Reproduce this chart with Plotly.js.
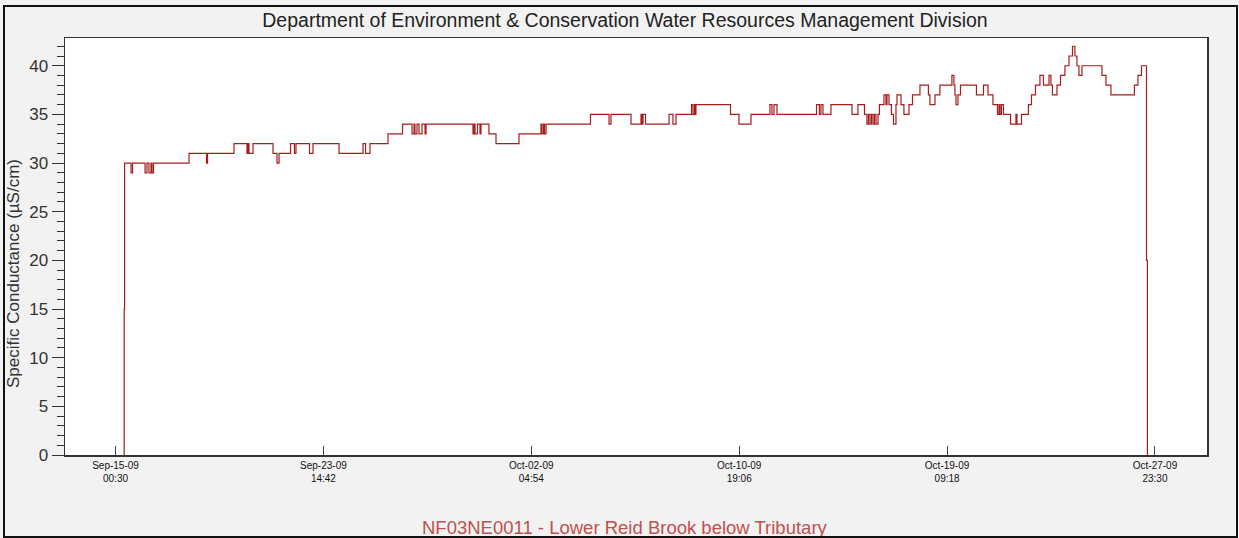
<!DOCTYPE html>
<html>
<head>
<meta charset="utf-8">
<script src="https://cdn.plot.ly/plotly-3.0.1.min.js"></script>
<style>
  html, body { margin: 0; padding: 0; background: #f2f2f2; }
  #wrap { position: relative; width: 1239px; height: 538px; }
  #chart { position: absolute; left: 0; top: 0; width: 1239px; height: 538px; }
  #frame { position: absolute; left: 3px; top: 5px; width: 1231px; height: 529px;
           border: 2px solid #111; pointer-events: none; }
</style>
</head>
<body>
<div id="wrap"><div id="chart"></div><div id="frame"></div></div>
<script>
// ---- data ----
const startTime = '2009-09-15 00:30';   // first x tick
// elapsed hours since startTime at which the reading changes
const hoursFromStart = [
  8.4, 8.6, 9.0, 15.4, 16.9, 29.3, 31.2, 33.2, 35.2, 36.2, 37.7, 72.9, 90.3, 91.3,
  117.5, 130.4, 131.4, 132.4, 136.4, 156.2, 160.2, 162.2, 173.6, 177.5, 179.0, 192.4,
  195.9, 221.7, 245.5, 248.0, 252.4, 270.3, 284.7, 294.1, 296.1, 297.0, 299.0, 301.0,
  304.0, 307.0, 308.0, 354.6, 355.6, 356.6, 359.0, 361.5, 362.5, 370.4, 377.4, 400.2,
  422.0, 423.0, 424.5, 425.5, 427.0, 471.1, 489.5, 491.4, 511.3, 521.2, 522.2, 523.2,
  525.7, 549.0, 552.9, 555.9, 571.3, 572.8, 574.3, 574.8, 575.7, 610.0, 618.4, 630.3,
  649.1, 651.1, 653.1, 656.1, 695.3, 698.2, 699.7, 701.7, 709.6, 730.5, 736.4, 742.9,
  745.3, 746.8, 748.3, 749.8, 751.3, 752.8, 754.3, 756.3, 757.7, 762.2, 764.2, 765.2,
  767.2, 769.6, 771.6, 774.1, 775.1, 779.1, 782.0, 787.0, 790.5, 797.9, 806.3, 807.8,
  812.8, 817.7, 829.6, 831.6, 832.6, 833.6, 835.6, 838.1, 853.9, 860.9, 865.4, 870.3,
  874.8, 876.3, 877.3, 878.7, 880.7, 887.7, 893.1, 894.1, 898.6, 905.5, 908.5, 912.5,
  916.9, 920.4, 925.9, 927.8, 929.3, 933.8, 937.3, 941.7, 945.7, 949.2, 951.6, 953.6,
  955.6, 958.6, 978.4, 982.4, 987.3, 1010.6, 1014.1, 1017.6, 1022.6, 1023.5
];
// specific conductance (µS/cm) from each of those times on
const conductance = [
  0, 15, 30, 29, 30, 29, 30, 29, 30, 29, 30, 31, 30, 31,
  32, 31, 32, 31, 32, 31, 30, 31, 32, 31, 32, 31,
  32, 31, 32, 31, 32, 33, 34, 33, 34, 33, 34, 33,
  34, 33, 34, 33, 34, 33, 34, 33, 34, 33, 32, 33,
  34, 33, 34, 33, 34, 35, 34, 35, 34, 35, 34, 35,
  34, 35, 34, 35, 36, 35, 36, 35, 36, 35, 34, 35,
  36, 35, 36, 35, 36, 35, 36, 35, 36, 35, 36, 35,
  34, 35, 34, 35, 34, 35, 34, 35, 36, 37, 36, 37,
  36, 35, 34, 36, 37, 36, 35, 36, 37, 38, 37, 36,
  37, 38, 39, 38, 37, 36, 37, 38, 37, 38, 37, 36,
  35, 36, 35, 36, 35, 34, 35, 34, 35, 36, 37, 38,
  39, 38, 39, 38, 37, 38, 39, 40, 41, 42, 41, 40,
  39, 40, 39, 38, 37, 38, 39, 40, 20, 0
];
const tickDates = ['2009-09-15 00:30', '2009-09-23 14:42', '2009-10-02 04:54',
                   '2009-10-10 19:06', '2009-10-19 09:18', '2009-10-27 23:30'];
const tickLabels = ['Sep-15-09<br>00:30', 'Sep-23-09<br>14:42', 'Oct-02-09<br>04:54',
                    'Oct-10-09<br>19:06', 'Oct-19-09<br>09:18', 'Oct-27-09<br>23:30'];
const chartTitle = 'Department of Environment & Conservation Water Resources Management Division';
const stationName = 'NF03NE0011 - Lower Reid Brook below Tributary';
const yTitle = 'Specific Conductance (µS/cm)';

// ---- helpers ----
const startMs = Date.parse(startTime.replace(' ', 'T') + ':00Z');
function hoursToDate(h) {
  return new Date(startMs + h * 3600000).toISOString().slice(0, 19).replace('T', ' ');
}
const xDates = hoursFromStart.map(hoursToDate);

const FONT = 'Liberation Sans, Arial, sans-serif';

const trace = {
  type: 'scatter',
  mode: 'lines',
  x: xDates,
  y: conductance,
  line: { color: '#a81c1c', width: 1.2, shape: 'hv' },
  hoverinfo: 'skip'
};

const layout = {
  width: 1239,
  height: 538,
  margin: { l: 65, r: 32, t: 38, b: 83, pad: 0 },
  paper_bgcolor: '#f2f2f2',
  plot_bgcolor: '#ffffff',
  showlegend: false,
  title: {
    text: chartTitle,
    font: { family: FONT, size: 19.5, color: '#222' },
    xref: 'container', x: 625 / 1239, xanchor: 'center',
    yref: 'container', y: 1 - 20 / 538, yanchor: 'middle'
  },
  xaxis: {
    type: 'date',
    range: [hoursToDate(-50.1), hoursToDate(1082.6)],
    tickmode: 'array',
    tickvals: tickDates,
    ticktext: tickLabels,
    ticks: 'inside',
    ticklen: 9,
    tickwidth: 1,
    tickcolor: '#444',
    tickfont: { family: FONT, size: 10, color: '#111' },
    showgrid: false,
    zeroline: false,
    showline: true,
    linecolor: '#333',
    linewidth: 1.5,
    mirror: true
  },
  yaxis: {
    range: [0, 42.85],
    tickmode: 'linear',
    tick0: 0,
    dtick: 5,
    ticks: 'outside',
    ticklen: 12,
    tickwidth: 1,
    tickcolor: '#333',
    minor: { dtick: 1, tick0: 0, ticks: 'outside', ticklen: 7, tickcolor: '#333', tickwidth: 1, showgrid: false },
    tickfont: { family: FONT, size: 17, color: '#333' },
    showgrid: false,
    zeroline: false,
    showline: true,
    linecolor: '#333',
    linewidth: 1.5,
    mirror: true
  },
  annotations: [
    {
      text: yTitle,
      xref: 'paper', yref: 'paper',
      x: (13 - 65) / 1142, y: (455 - 274) / 417,
      xanchor: 'center', yanchor: 'middle',
      textangle: -90,
      showarrow: false,
      font: { family: FONT, size: 17, color: '#333' }
    },
    {
      text: stationName,
      xref: 'paper', yref: 'paper',
      x: (625 - 65) / 1142, y: (455 - 527) / 417,
      xanchor: 'center', yanchor: 'middle',
      showarrow: false,
      font: { family: FONT, size: 18.5, color: '#c0504d' }
    }
  ]
};

Plotly.newPlot('chart', [trace], layout, { staticPlot: true, displayModeBar: false });
</script>
</body>
</html>
